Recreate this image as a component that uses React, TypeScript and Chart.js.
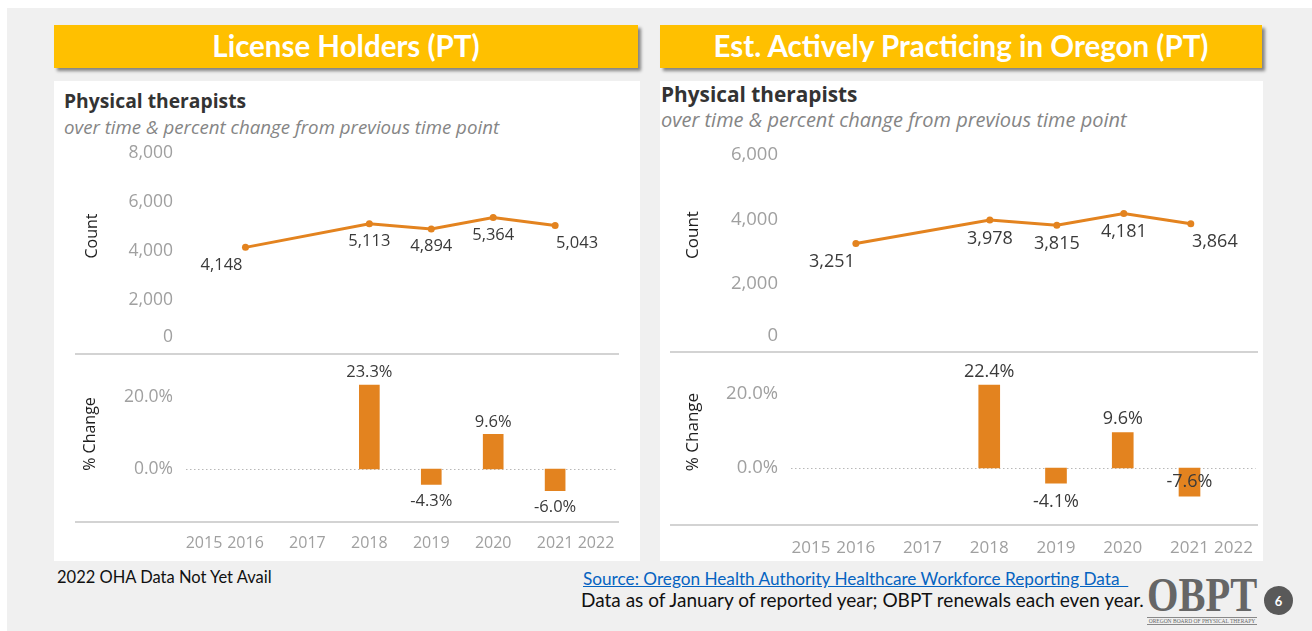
import React, { useEffect, useRef } from "react";
import { Chart, registerables } from "chart.js";

Chart.register(...registerables);

// ---------- data ----------
const countYears = [2016, 2018, 2019, 2020, 2021];
const licenseHolderCounts = [4148, 5113, 4894, 5364, 5043];
const activelyPracticingCounts = [3251, 3978, 3815, 4181, 3864];
const changeYears = [2018, 2019, 2020, 2021];
const licenseHolderChange = [23.3, -4.3, 9.6, -6.0];
const activelyPracticingChange = [22.4, -4.1, 9.6, -7.6];
const yearTickLabels = [2015, 2016, 2017, 2018, 2019, 2020, 2021, 2022];
const licenseCountTicks = [0, 2000, 4000, 6000, 8000];
const practicingCountTicks = [0, 2000, 4000, 6000];
const changeTicks = [0, 20];

// ---------- style ----------
const ORANGE = "#E3831F";
const TICK = "#a0a0a0";
const LABEL = "#3a3a3a";
const FONT = '"Open Sans", sans-serif';
const X_MIN = 2015.33;
const X_MAX = 2021.66;
const CHANGE_MIN = -14;
const CHANGE_MAX = 30;

type Pad = { left: number; right: number; top: number; bottom: number };

type LineProps = {
  left: number; top: number; width: number; height: number; pad: Pad;
  yMax: number; values: number[]; ticks: number[]; tickX: number; tickSize: number;
  labelSize: number; labelDy: number; firstDx: number; lastDx: number;
  titleX: number; titleY: number; titleSize: number;
};

function LinePane(p: LineProps) {
  const ref = useRef<HTMLCanvasElement>(null);
  useEffect(() => {
    const textPlugin = {
      id: "lineText",
      afterDraw(chart: any) {
        const { ctx, chartArea } = chart;
        const ys = chart.scales.y;
        ctx.save();
        ctx.font = `${p.tickSize}px ${FONT}`;
        ctx.fillStyle = TICK;
        ctx.textAlign = "right";
        ctx.textBaseline = "middle";
        for (const v of p.ticks) {
          const py = Math.min(ys.getPixelForValue(v), chartArea.bottom - 12);
          ctx.fillText(v.toLocaleString("en-US"), p.tickX, py);
        }
        const meta = chart.getDatasetMeta(0);
        ctx.font = `${p.labelSize}px ${FONT}`;
        ctx.fillStyle = LABEL;
        ctx.textAlign = "center";
        meta.data.forEach((pt: any, i: number) => {
          let dx = 0;
          if (i === 0) dx = p.firstDx;
          if (i === meta.data.length - 1) dx = p.lastDx;
          ctx.fillText(p.values[i].toLocaleString("en-US"), pt.x + dx, pt.y + p.labelDy);
        });
        ctx.translate(p.titleX, p.titleY);
        ctx.rotate(-Math.PI / 2);
        ctx.font = `${p.titleSize}px ${FONT}`;
        ctx.fillStyle = "#1e1e1e";
        ctx.fillText("Count", 0, 0);
        ctx.restore();
      },
    };
    const chart = new Chart(ref.current as HTMLCanvasElement, {
      type: "line",
      data: {
        datasets: [
          {
            data: countYears.map((x, i) => ({ x, y: p.values[i] })),
            borderColor: ORANGE,
            backgroundColor: ORANGE,
            borderWidth: 3,
            pointRadius: 3.5,
            pointBorderWidth: 0,
            pointBackgroundColor: ORANGE,
            tension: 0,
          },
        ],
      },
      options: {
        responsive: false,
        animation: false,
        layout: { padding: p.pad },
        plugins: { legend: { display: false }, tooltip: { enabled: false } },
        scales: {
          x: { type: "linear", min: X_MIN, max: X_MAX, display: false },
          y: { type: "linear", min: 0, max: p.yMax, display: false },
        },
      },
      plugins: [textPlugin],
    } as any);
    return () => chart.destroy();
  }, []);
  return (
    <canvas
      ref={ref}
      width={p.width}
      height={p.height}
      style={{ position: "absolute", left: p.left, top: p.top, width: p.width, height: p.height }}
    />
  );
}

type BarProps = {
  left: number; top: number; width: number; height: number; pad: Pad;
  values: number[]; tickX: number; tickSize: number; yearSize: number; labelSize: number;
  posDy: number; negDy: number; insideIndex: number; barW: number;
  axisH: number; axisPad: number; zeroExtL: number; zeroExtR: number;
  titleX: number; titleY: number; titleSize: number;
};

function BarPane(p: BarProps) {
  const ref = useRef<HTMLCanvasElement>(null);
  useEffect(() => {
    const textPlugin = {
      id: "barText",
      beforeDatasetsDraw(chart: any) {
        const { ctx, chartArea } = chart;
        const y0 = chart.scales.y.getPixelForValue(0);
        ctx.save();
        ctx.strokeStyle = "#b8b8b8";
        ctx.lineWidth = 1;
        ctx.setLineDash([1.5, 2.5]);
        ctx.beginPath();
        ctx.moveTo(chartArea.left - p.zeroExtL, y0 + 0.5);
        ctx.lineTo(chartArea.right + p.zeroExtR, y0 + 0.5);
        ctx.stroke();
        ctx.restore();
      },
      afterDraw(chart: any) {
        const { ctx } = chart;
        const ys = chart.scales.y;
        ctx.save();
        ctx.font = `${p.tickSize}px ${FONT}`;
        ctx.fillStyle = TICK;
        ctx.textAlign = "right";
        ctx.textBaseline = "middle";
        for (const v of changeTicks) {
          ctx.fillText(v.toFixed(1) + "%", p.tickX, ys.getPixelForValue(v));
        }
        const meta = chart.getDatasetMeta(0);
        ctx.font = `${p.labelSize}px ${FONT}`;
        ctx.fillStyle = LABEL;
        ctx.textAlign = "center";
        meta.data.forEach((bar: any, i: number) => {
          const v = p.values[i];
          let y = v >= 0 ? bar.y - p.posDy : bar.y + p.negDy;
          if (i === p.insideIndex) y = (bar.y + bar.base) / 2;
          ctx.fillText(v.toFixed(1) + "%", bar.x, y);
        });
        ctx.translate(p.titleX, p.titleY);
        ctx.rotate(-Math.PI / 2);
        ctx.font = `${p.titleSize}px ${FONT}`;
        ctx.fillStyle = "#1e1e1e";
        ctx.fillText("% Change", 0, 0);
        ctx.restore();
      },
    };
    const chart = new Chart(ref.current as HTMLCanvasElement, {
      type: "bar",
      data: {
        datasets: [
          {
            data: changeYears.map((x, i) => ({ x, y: p.values[i] })),
            backgroundColor: ORANGE,
            borderWidth: 0,
            barThickness: p.barW,
          },
        ],
      },
      options: {
        responsive: false,
        animation: false,
        layout: { padding: p.pad },
        plugins: { legend: { display: false }, tooltip: { enabled: false } },
        scales: {
          x: {
            type: "linear",
            min: X_MIN,
            max: X_MAX,
            offset: false,
            grid: { display: false },
            border: { display: false },
            afterBuildTicks: (s: any) => {
              s.ticks = yearTickLabels.map((v) => ({ value: Math.min(Math.max(v, s.min), s.max) }));
            },
            afterFit: (s: any) => {
              s.height = p.axisH;
            },
            ticks: {
              autoSkip: false,
              maxRotation: 0,
              minRotation: 0,
              padding: p.axisPad,
              color: TICK,
              font: { family: "Open Sans", size: p.yearSize },
              callback: (_v: any, i: number) => String(yearTickLabels[i]),
            },
          },
          y: { type: "linear", min: CHANGE_MIN, max: CHANGE_MAX, display: false },
        },
      },
      plugins: [textPlugin],
    } as any);
    return () => chart.destroy();
  }, []);
  return (
    <canvas
      ref={ref}
      width={p.width}
      height={p.height}
      style={{ position: "absolute", left: p.left, top: p.top, width: p.width, height: p.height }}
    />
  );
}

const abs = (s: React.CSSProperties): React.CSSProperties => ({ position: "absolute", ...s });

function TitleBox({ left, width, text }: { left: number; width: number; text: string }) {
  return (
    <div
      style={abs({
        left, top: 25, width, height: 43, background: "#FFC000",
        boxShadow: "3px 3px 3px rgba(0,0,0,0.45)", color: "#fff",
        fontFamily: "Lato, sans-serif", fontWeight: 700, fontSize: 29.5,
        display: "flex", alignItems: "center", justifyContent: "center", whiteSpace: "nowrap",
      })}
    >
      <span style={{ position: "relative", top: -1 }}>{text}</span>
    </div>
  );
}

function Sep({ left, width, top }: { left: number; width: number; top: number }) {
  return <div style={abs({ left, width, top, height: 1.5, background: "#d3d3d3" })} />;
}

export default function App() {
  return (
    <div style={abs({ left: 0, top: 0, width: 1312, height: 631, overflow: "hidden", background: "#fff" })}>
      <div style={abs({ left: 7, top: 8, width: 1305, height: 623, background: "#F0F0F0" })} />

      <TitleBox left={54} width={584} text="License Holders (PT)" />
      <TitleBox left={660} width={602} text="Est. Actively Practicing in Oregon (PT)" />

      {/* left panel */}
      <div style={abs({ left: 54, top: 81, width: 586, height: 480, background: "#fff" })} />
      <div style={abs({ left: 64, top: 88, fontFamily: FONT, fontWeight: 700, fontSize: 19.3, color: "#333", whiteSpace: "nowrap", lineHeight: "26px" })}>
        Physical therapists
      </div>
      <div style={abs({ left: 64, top: 114, fontFamily: FONT, fontStyle: "italic", fontSize: 18.7, color: "#858585", whiteSpace: "nowrap", lineHeight: "26px" })}>
        over time &amp; percent change from previous time point
      </div>
      <LinePane
        left={54} top={140} width={586} height={213}
        pad={{ left: 150, right: 44, top: 13, bottom: 4 }}
        yMax={8000} values={licenseHolderCounts} ticks={licenseCountTicks}
        tickX={119} tickSize={17.5} labelSize={16.5} labelDy={17.5} firstDx={-24} lastDx={22}
        titleX={38} titleY={96} titleSize={16}
      />
      <Sep left={75} width={544} top={353} />
      <BarPane
        left={54} top={355} width={586} height={206}
        pad={{ left: 150, right: 44, top: 6, bottom: 0 }}
        values={licenseHolderChange} tickX={119} tickSize={17.5} yearSize={16} labelSize={16.5}
        posDy={12.5} negDy={17} insideIndex={-1} barW={20}
        axisH={41.6} axisPad={6} zeroExtL={18} zeroExtR={21}
        titleX={36} titleY={79} titleSize={16}
      />
      <Sep left={75} width={544} top={521} />

      {/* right panel */}
      <div style={abs({ left: 660, top: 81, width: 603, height: 480, background: "#fff" })} />
      <div style={abs({ left: 661, top: 80, fontFamily: FONT, fontWeight: 700, fontSize: 20.8, color: "#333", whiteSpace: "nowrap", lineHeight: "28px" })}>
        Physical therapists
      </div>
      <div style={abs({ left: 661, top: 106, fontFamily: FONT, fontStyle: "italic", fontSize: 20, color: "#858585", whiteSpace: "nowrap", lineHeight: "28px" })}>
        over time &amp; percent change from previous time point
      </div>
      <LinePane
        left={660} top={135} width={603} height={217}
        pad={{ left: 151, right: 28, top: 20, bottom: 3.5 }}
        yMax={6000} values={activelyPracticingCounts} ticks={practicingCountTicks}
        tickX={118} tickSize={18.5} labelSize={18} labelDy={18.5} firstDx={-24} lastDx={24}
        titleX={33} titleY={100} titleSize={17}
      />
      <Sep left={670} width={588} top={351} />
      <BarPane
        left={660} top={353} width={603} height={208}
        pad={{ left: 151, right: 28, top: 4, bottom: 0 }}
        values={activelyPracticingChange} tickX={118} tickSize={18.5} yearSize={17} labelSize={18}
        posDy={13.5} negDy={18.5} insideIndex={3} barW={21}
        axisH={41.2} axisPad={10} zeroExtL={20} zeroExtR={22}
        titleX={33} titleY={79} titleSize={17}
      />
      <Sep left={670} width={588} top={524} />

      {/* footer */}
      <div style={abs({ left: 57, top: 566, fontFamily: "Lato, sans-serif", fontSize: 16.5, color: "#111", whiteSpace: "nowrap", lineHeight: "22px" })}>
        2022 OHA Data Not Yet Avail
      </div>
      <div style={abs({ left: 583, top: 568, fontFamily: "Lato, sans-serif", fontSize: 17.2, color: "#0563C1", textDecoration: "underline", whiteSpace: "pre", lineHeight: "22px" })}>
        {"Source: Oregon Health Authority Healthcare Workforce Reporting Data  "}
      </div>
      <div style={abs({ left: 581, top: 588, fontFamily: "Lato, sans-serif", fontSize: 19, color: "#111", whiteSpace: "nowrap", lineHeight: "24px" })}>
        Data as of January of reported year; OBPT renewals each even year.
      </div>
      <div style={abs({ left: 1147, top: 571, fontFamily: '"Liberation Serif", serif', fontWeight: 700, fontSize: 46, color: "#666", whiteSpace: "nowrap", lineHeight: "46px", transform: "scale(0.88, 1.04)", transformOrigin: "top left" })}>
        OBPT
      </div>
      <div style={abs({ left: 1147, top: 617, width: 110, overflow: "hidden", fontFamily: '"Liberation Serif", serif', fontSize: 5.5, color: "#666", whiteSpace: "nowrap", lineHeight: "6px", borderTop: "1px solid #888", borderBottom: "1px solid #888", textAlign: "center" })}>
        OREGON BOARD OF PHYSICAL THERAPY
      </div>
      <div style={abs({ left: 1264, top: 586, width: 29, height: 29, borderRadius: 15, background: "#595959", color: "#fff", fontFamily: "Lato, sans-serif", fontWeight: 700, fontSize: 13, display: "flex", alignItems: "center", justifyContent: "center" })}>
        6
      </div>
    </div>
  );
}
